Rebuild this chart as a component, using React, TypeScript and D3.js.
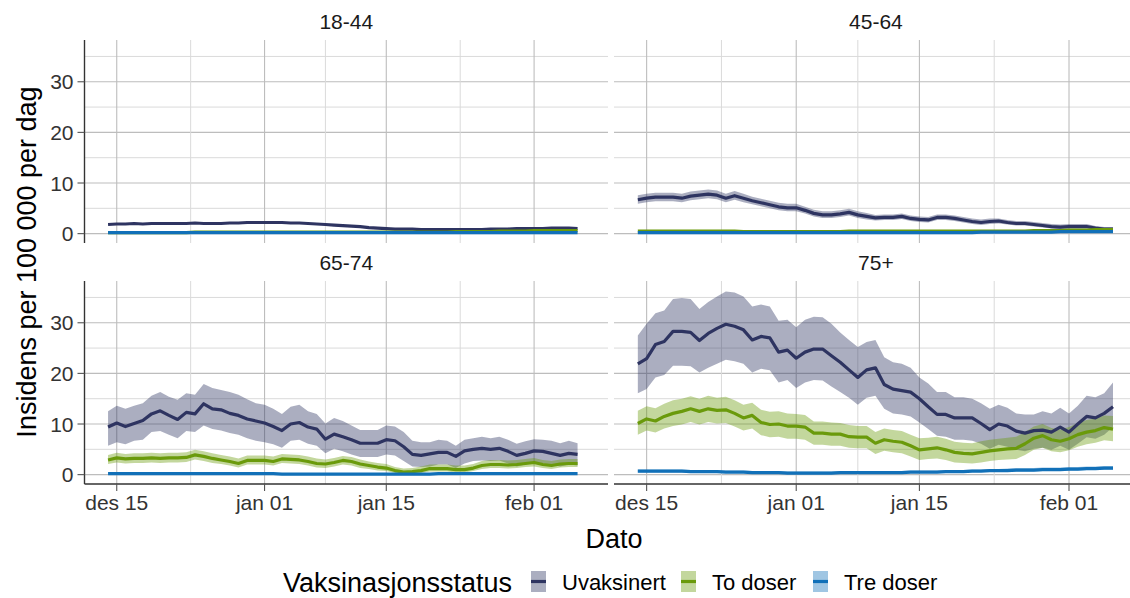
import React, { useEffect } from "react";
import * as d3 from "d3";

// daily dates, 14 Dec 2021 - 6 Feb 2022
const firstDay = new Date(2021, 11, 14);
const dates = d3.timeDay.range(firstDay, d3.timeDay.offset(firstDay, 55));

const groups = ["18-44", "45-64", "65-74", "75+"];
const statuses = ["Uvaksinert", "To doser", "Tre doser"];
const colors = ["#2e3461", "#6a9a0b", "#1170b8"];

const xBreaks = [new Date(2021, 11, 15), new Date(2022, 0, 1), new Date(2022, 0, 15), new Date(2022, 1, 1)];
const xBreakLabels = ["des 15", "jan 01", "jan 15", "feb 01"];
const xMinor = [new Date(2021, 11, 23, 12), new Date(2022, 0, 8), new Date(2022, 0, 23, 12)];
const yBreaks = [0, 10, 20, 30];
const yMinor = [5, 15, 25, 35];

// 18-44
const u18 = [1.8,1.9,1.9,2.0,1.9,2.0,2.0,2.0,2.0,2.0, 2.1,2.0,2.0,2.0,2.1,2.1,2.2,2.2,2.2,2.2, 2.2,2.1,2.1,2.0,1.9,1.8,1.7,1.6,1.5,1.4, 1.2,1.1,1.0,0.9,0.9,0.9,0.8,0.8,0.8,0.8, 0.8,0.8,0.8,0.8,0.9,0.9,0.9,1.0,1.0,1.0, 1.0,1.1,1.1,1.1,1.0];
const t18 = [0.2,0.2,0.2,0.2,0.2,0.2,0.2,0.2,0.2,0.2, 0.3,0.3,0.3,0.3,0.3,0.3,0.3,0.3,0.3,0.3, 0.3,0.3,0.3,0.3,0.3,0.3,0.3,0.3,0.3,0.3, 0.3,0.3,0.3,0.3,0.3,0.3,0.3,0.3,0.3,0.3, 0.4,0.4,0.4,0.4,0.4,0.5,0.5,0.5,0.5,0.6, 0.6,0.6,0.6,0.6,0.6];
const r18 = [0.2,0.2,0.2,0.2,0.2,0.2,0.2,0.2,0.2,0.2, 0.2,0.2,0.2,0.2,0.2,0.2,0.2,0.2,0.2,0.2, 0.2,0.2,0.2,0.2,0.2,0.2,0.2,0.2,0.2,0.2, 0.2,0.2,0.2,0.2,0.2,0.2,0.2,0.2,0.2,0.2, 0.2,0.2,0.2,0.2,0.2,0.2,0.2,0.2,0.2,0.2, 0.2,0.2,0.2,0.2,0.2];

// 45-64
const u45 = [6.7,7.0,7.2,7.2,7.2,7.0,7.4,7.6,7.8,7.6, 7.0,7.5,7.0,6.5,6.1,5.7,5.3,5.1,5.1,4.6, 4.0,3.7,3.7,3.9,4.2,3.7,3.4,3.1,3.2,3.2, 3.4,3.0,2.8,2.7,3.2,3.2,3.0,2.7,2.4,2.2, 2.4,2.5,2.2,2.0,2.0,1.8,1.6,1.4,1.3,1.4, 1.4,1.4,1.1,0.9,0.9];
const u45hi = [7.6,7.9,8.1,8.1,8.1,7.9,8.3,8.5,8.7,8.5, 7.9,8.4,7.9,7.3,6.9,6.5,6.1,5.9,5.9,5.3, 4.7,4.4,4.4,4.6,4.9,4.4,4.1,3.7,3.8,3.8, 4.0,3.6,3.4,3.3,3.8,3.8,3.6,3.3,3.0,2.8, 3.0,3.0,2.7,2.5,2.5,2.3,2.1,1.9,1.8,1.9, 1.9,1.9,1.5,1.3,1.3];
const u45lo = [5.9,6.2,6.4,6.4,6.4,6.2,6.6,6.8,7.0,6.8, 6.2,6.7,6.2,5.8,5.4,5.0,4.6,4.4,4.4,4.0, 3.4,3.1,3.1,3.3,3.6,3.1,2.8,2.6,2.7,2.7, 2.9,2.5,2.3,2.2,2.7,2.7,2.5,2.2,1.9,1.7, 1.9,2.0,1.8,1.6,1.6,1.4,1.2,1.0,0.9,1.0, 1.0,1.0,0.8,0.6,0.6];
const t45 = [0.5,0.5,0.5,0.5,0.5,0.5,0.5,0.5,0.5,0.5, 0.5,0.5,0.4,0.4,0.4,0.4,0.4,0.4,0.4,0.4, 0.4,0.4,0.4,0.4,0.5,0.5,0.5,0.5,0.5,0.5, 0.5,0.5,0.5,0.5,0.5,0.5,0.5,0.5,0.5,0.5, 0.5,0.5,0.5,0.5,0.5,0.6,0.6,0.6,0.6,0.7, 0.7,0.7,0.8,0.8,0.8];
const r45 = [0.2,0.2,0.2,0.2,0.2,0.2,0.2,0.2,0.2,0.2, 0.2,0.2,0.2,0.2,0.2,0.2,0.2,0.2,0.2,0.2, 0.2,0.2,0.2,0.2,0.2,0.2,0.2,0.2,0.2,0.2, 0.2,0.2,0.2,0.2,0.2,0.2,0.2,0.2,0.2,0.3, 0.3,0.3,0.3,0.3,0.3,0.3,0.3,0.3,0.4,0.4, 0.4,0.4,0.4,0.4,0.4];

// 65-74
const u65 = [9.4,10.2,9.5,10.1,10.7,12.0,12.6,11.7,10.9,12.3, 12.0,14.0,13.0,12.8,12.1,11.7,11.0,10.6,10.2,9.5, 8.7,10.0,10.3,9.4,9.0,7.0,8.0,7.5,6.9,6.2, 6.2,6.2,6.9,6.7,5.5,4.0,3.8,4.1,4.4,4.4, 3.6,4.7,5.0,5.2,5.0,5.2,4.6,3.8,4.2,4.7, 4.6,4.2,3.8,4.2,4.0];
const u65hi = [12.5,13.6,13.0,13.6,14.1,15.6,16.3,15.4,14.8,16.1, 15.8,17.9,17.1,16.7,16.3,15.8,14.9,14.1,13.8,13.0, 12.0,13.4,13.8,12.5,12.0,10.1,11.2,10.6,9.7,8.8, 8.8,8.8,9.7,9.5,8.4,6.7,6.4,6.4,6.9,6.7, 5.7,6.9,7.2,7.5,7.2,7.5,6.9,6.1,6.6,7.0, 6.9,6.7,6.2,6.7,6.2];
const u65lo = [5.7,6.4,6.0,6.7,6.9,8.4,8.6,7.9,7.2,8.6, 8.4,9.7,9.0,8.7,8.2,7.9,7.2,6.7,6.4,6.0, 5.3,6.7,6.9,6.1,5.7,4.2,5.1,4.6,4.0,3.5, 3.5,3.5,4.0,3.8,2.7,1.6,1.5,1.6,2.0,2.0, 1.3,2.2,2.7,2.8,2.7,2.8,2.2,1.6,2.0,2.4, 2.2,2.0,1.6,2.0,1.8];
const t65 = [2.9,3.3,3.1,3.2,3.2,3.3,3.2,3.3,3.3,3.4, 3.9,3.6,3.2,2.9,2.6,2.2,2.8,2.8,2.8,2.6, 3.1,3.0,2.9,2.6,2.2,2.1,2.4,2.8,2.6,2.1, 1.8,1.5,1.3,0.8,0.5,0.6,0.8,1.2,1.2,1.2, 1.0,1.0,1.3,1.8,2.0,2.0,1.9,2.0,2.2,2.4, 2.0,1.8,2.1,2.2,2.2];
const t65hi = [3.9,4.3,4.1,4.2,4.2,4.3,4.2,4.3,4.3,4.4, 4.9,4.6,4.2,3.9,3.6,3.2,3.8,3.8,3.8,3.6, 4.1,4.0,3.9,3.6,3.2,3.0,3.3,3.7,3.5,3.0, 2.6,2.3,2.1,1.5,1.2,1.3,1.6,2.0,2.0,2.0, 1.8,1.8,2.1,2.7,2.9,2.9,2.8,2.9,3.1,3.3, 2.9,2.7,3.0,3.1,3.1];
const t65lo = [2.1,2.4,2.2,2.3,2.3,2.4,2.3,2.4,2.4,2.5, 3.0,2.7,2.3,2.1,1.8,1.4,2.0,2.0,2.0,1.8, 2.3,2.2,2.1,1.8,1.4,1.3,1.6,2.0,1.8,1.3, 1.1,0.8,0.7,0.3,0.1,0.1,0.3,0.6,0.6,0.6, 0.4,0.4,0.7,1.1,1.3,1.3,1.2,1.3,1.5,1.6, 1.3,1.1,1.4,1.5,1.5];
const r65 = [0.2,0.2,0.2,0.2,0.2,0.2,0.2,0.2,0.2,0.2, 0.2,0.2,0.2,0.2,0.2,0.2,0.2,0.2,0.2,0.2, 0.1,0.1,0.1,0.1,0.1,0.1,0.1,0.1,0.1,0.1, 0.1,0.1,0.1,0.1,0.1,0.1,0.1,0.1,0.2,0.2, 0.2,0.2,0.2,0.2,0.2,0.2,0.2,0.2,0.2,0.2, 0.2,0.2,0.2,0.2,0.2];

// 75+
const u75 = [21.9,22.9,25.7,26.3,28.3,28.3,28.1,26.5,27.9,28.9, 29.7,29.3,28.6,26.6,27.3,27.0,24.2,24.6,23.0,24.2, 24.8,24.8,23.5,22.2,20.7,19.2,20.7,21.1,17.8,16.9, 16.6,16.3,15.0,13.4,11.9,11.9,11.2,11.2,11.2,10.1, 8.9,10.0,9.6,8.6,8.2,8.7,8.8,8.4,9.4,8.4, 10.0,11.5,11.2,12.1,13.4];
const u75hi = [27.5,29.8,31.9,32.4,34.7,34.9,34.7,32.7,34.1,35.2, 36.2,36.0,35.2,33.2,33.6,33.2,30.4,30.6,29.1,30.6, 31.2,31.1,29.8,28.1,26.6,25.2,26.2,26.6,23.2,22.2, 21.9,21.1,19.2,18.0,16.3,16.3,15.3,15.3,15.0,14.1, 13.0,13.8,13.2,12.1,11.9,11.9,12.5,12.1,13.2,12.1, 13.6,15.6,15.3,16.1,18.2];
const u75lo = [16.1,16.9,19.2,19.7,21.5,21.5,21.4,20.2,21.1,21.9, 22.7,22.4,21.9,20.2,20.9,20.6,18.2,18.7,17.1,18.2, 18.7,18.6,17.4,16.3,15.2,13.8,15.2,15.6,13.0,12.1, 11.9,11.5,10.3,9.0,7.7,7.5,6.9,6.9,6.7,6.1, 5.1,5.9,5.5,4.9,4.6,5.1,5.3,4.9,5.7,4.9, 6.1,7.4,7.1,7.9,9.4];
const t75 = [10.1,11.0,10.6,11.5,12.1,12.5,13.0,12.5,13.0,12.7, 12.8,12.1,11.2,11.7,10.3,9.9,10.0,9.6,9.6,9.4, 8.2,8.2,8.0,8.0,7.5,7.4,7.4,6.2,6.9,6.6, 6.4,5.7,4.9,5.1,5.3,4.9,4.4,4.2,4.1,4.4, 4.7,4.9,5.1,5.2,6.1,7.2,7.7,6.9,6.6,7.1, 7.9,8.4,8.7,9.3,9.0];
const t75hi = [12.6,13.5,13.1,14.0,14.7,15.0,15.5,15.0,15.6,15.2, 15.4,14.7,13.8,14.2,12.8,12.4,12.5,12.1,12.0,11.8, 10.5,10.5,10.3,10.2,9.8,9.6,9.6,8.4,9.1,8.8, 8.6,7.9,7.2,7.3,7.5,7.1,6.5,6.3,6.2,6.6, 6.9,7.1,7.3,7.5,8.4,9.5,10.0,9.2,8.9,9.4, 10.2,10.8,11.1,11.7,11.6];
const t75lo = [7.9,8.7,8.3,9.1,9.6,9.9,10.4,9.9,10.4,10.1, 10.2,9.5,8.7,9.1,7.8,7.4,7.5,7.1,7.1,6.9, 5.9,5.9,5.7,5.7,5.3,5.2,5.2,4.1,4.7,4.4, 4.2,3.6,2.9,3.1,3.2,2.9,2.4,2.3,2.2,2.4, 2.7,2.9,3.0,3.1,3.9,4.9,5.3,4.6,4.4,4.8, 5.5,6.0,6.3,6.8,6.6];
const r75 = [0.7,0.7,0.7,0.7,0.7,0.7,0.6,0.6,0.6,0.6, 0.5,0.5,0.5,0.4,0.4,0.4,0.4,0.3,0.3,0.3, 0.3,0.3,0.3,0.4,0.4,0.4,0.4,0.4,0.4,0.4, 0.4,0.5,0.5,0.5,0.5,0.6,0.6,0.6,0.7,0.7, 0.8,0.8,0.8,0.9,0.9,0.9,1.0,1.0,1.0,1.1, 1.1,1.2,1.2,1.3,1.3];
const r75hi = [1.0,1.0,1.0,1.0,1.0,1.0,0.9,0.9,0.9,0.9, 0.8,0.8,0.8,0.7,0.7,0.7,0.7,0.6,0.6,0.6, 0.6,0.6,0.6,0.7,0.7,0.7,0.7,0.7,0.7,0.7, 0.7,0.8,0.8,0.8,0.8,0.9,0.9,0.9,1.0,1.0, 1.1,1.1,1.2,1.3,1.3,1.3,1.4,1.4,1.4,1.5, 1.5,1.6,1.6,1.7,1.7];
const r75lo = [0.4,0.4,0.4,0.4,0.4,0.4,0.4,0.4,0.4,0.4, 0.3,0.3,0.3,0.2,0.2,0.2,0.2,0.1,0.1,0.1, 0.1,0.1,0.1,0.2,0.2,0.2,0.2,0.2,0.2,0.2, 0.2,0.3,0.3,0.3,0.3,0.4,0.4,0.4,0.5,0.5, 0.5,0.5,0.5,0.6,0.6,0.6,0.7,0.7,0.7,0.8, 0.8,0.9,0.9,1.0,1.0];

const panelSeries = [
  [{ v: u18 }, { v: t18 }, { v: r18 }],
  [{ v: u45, lo: u45lo, hi: u45hi }, { v: t45 }, { v: r45 }],
  [{ v: u65, lo: u65lo, hi: u65hi }, { v: t65, lo: t65lo, hi: t65hi }, { v: r65 }],
  [{ v: u75, lo: u75lo, hi: u75hi }, { v: t75, lo: t75lo, hi: t75hi }, { v: r75, lo: r75lo, hi: r75hi }],
];

const FONT = "'Liberation Sans', Arial, sans-serif";
const W = 1130;
const H = 598;
const colRange = [[84.5, 608], [614, 1143.8]];
const rowRange = [[243, 40], [484, 281]];
const xDomain = [new Date(2021, 11, 11, 7), new Date(2022, 1, 9, 12)];
const yDomain = [-1.85, 38.25];

function Panel({ idx }) {
  const col = idx % 2;
  const row = Math.floor(idx / 2);
  const x = d3.scaleTime().domain(xDomain).range(colRange[col]);
  const y = d3.scaleLinear().domain(yDomain).range(rowRange[row]);
  const [x0, x1] = colRange[col];
  const [y1, y0] = rowRange[row];
  const series = panelSeries[idx];

  const line = (vals) =>
    d3.line().x((d, i) => x(dates[i])).y((d) => y(d))(vals);
  const band = (lo, hi) =>
    d3.area().x((d, i) => x(dates[i])).y0((d, i) => y(lo[i])).y1((d, i) => y(hi[i]))(lo);

  return (
    <g>
      <clipPath id={`clip${idx}`}>
        <rect x={x0} y={y0} width={x1 - x0} height={y1 - y0} />
      </clipPath>
      {/* grid */}
      {yMinor.map((v) => (
        <line key={"ym" + v} x1={x0} x2={x1} y1={y(v)} y2={y(v)} stroke="#dadada" strokeWidth={1} />
      ))}
      {yBreaks.map((v) => (
        <line key={"y" + v} x1={x0} x2={x1} y1={y(v)} y2={y(v)} stroke="#bdbdbd" strokeWidth={1.1} />
      ))}
      {xMinor.map((d, i) => (
        <line key={"xm" + i} x1={x(d)} x2={x(d)} y1={y0} y2={y1} stroke="#dadada" strokeWidth={1} />
      ))}
      {xBreaks.map((d, i) => (
        <line key={"x" + i} x1={x(d)} x2={x(d)} y1={y0} y2={y1} stroke="#bdbdbd" strokeWidth={1.1} />
      ))}
      <g clipPath={`url(#clip${idx})`}>
        {series.map((s, i) =>
          s.lo ? <path key={"b" + i} d={band(s.lo, s.hi)} fill={colors[i]} fillOpacity={0.4} /> : null
        )}
        {series.map((s, i) => (
          <path key={"l" + i} d={line(s.v)} fill="none" stroke={colors[i]} strokeWidth={3.2} strokeLinejoin="round" />
        ))}
      </g>
      {/* strip */}
      <text x={(x0 + x1) / 2 - (col === 1 ? 3 : 0)} y={y0 - 11} textAnchor="middle" fontFamily={FONT} fontSize={21} fill="#1a1a1a">
        {groups[idx]}
      </text>
      {/* axes on outer panels */}
      {col === 0 && (
        <g>
          <line x1={x0} x2={x0} y1={y0} y2={y1} stroke="#333" strokeWidth={1.4} />
          {yBreaks.map((v) => (
            <g key={"yt" + v}>
              <line x1={x0 - 7} x2={x0} y1={y(v)} y2={y(v)} stroke="#555" strokeWidth={1.1} />
              <text x={x0 - 11} y={y(v) + 7.5} textAnchor="end" fontFamily={FONT} fontSize={21} fill="#333">
                {v}
              </text>
            </g>
          ))}
        </g>
      )}
      {row === 1 && (
        <g>
          <line x1={x0} x2={x1} y1={y1} y2={y1} stroke="#333" strokeWidth={1.4} />
          {xBreaks.map((d, i) => (
            <g key={"xt" + i}>
              <line x1={x(d)} x2={x(d)} y1={y1} y2={y1 + 7} stroke="#555" strokeWidth={1.1} />
              <text x={x(d)} y={y1 + 26} textAnchor="middle" fontFamily={FONT} fontSize={21} fill="#333">
                {xBreakLabels[i]}
              </text>
            </g>
          ))}
        </g>
      )}
    </g>
  );
}

const legendX = [531, 681, 813];

export default function App() {
  useEffect(() => {
    document.body.style.margin = "0";
  }, []);
  return (
    <svg width={W} height={H} style={{ display: "block", background: "#fff" }}>
      <rect width={W} height={H} fill="#fff" />
      {groups.map((g, i) => (
        <Panel key={g} idx={i} />
      ))}
      <text x={614} y={548} textAnchor="middle" fontFamily={FONT} fontSize={27} fill="#000">
        Dato
      </text>
      <text
        transform="translate(36,262) rotate(-90)"
        textAnchor="middle"
        fontFamily={FONT}
        fontSize={27}
        fill="#000"
      >
        Insidens per 100 000 per dag
      </text>
      {/* legend */}
      <text x={283} y={592} fontFamily={FONT} fontSize={27} fill="#000">
        Vaksinasjonsstatus
      </text>
      {statuses.map((s, i) => (
        <g key={s}>
          <rect x={legendX[i]} y={571} width={15} height={21} fill={colors[i]} fillOpacity={0.4} />
          <line x1={legendX[i]} x2={legendX[i] + 15} y1={581.5} y2={581.5} stroke={colors[i]} strokeWidth={3.2} />
          <text x={legendX[i] + 31} y={590} fontFamily={FONT} fontSize={22} fill="#000">
            {s}
          </text>
        </g>
      ))}
    </svg>
  );
}
